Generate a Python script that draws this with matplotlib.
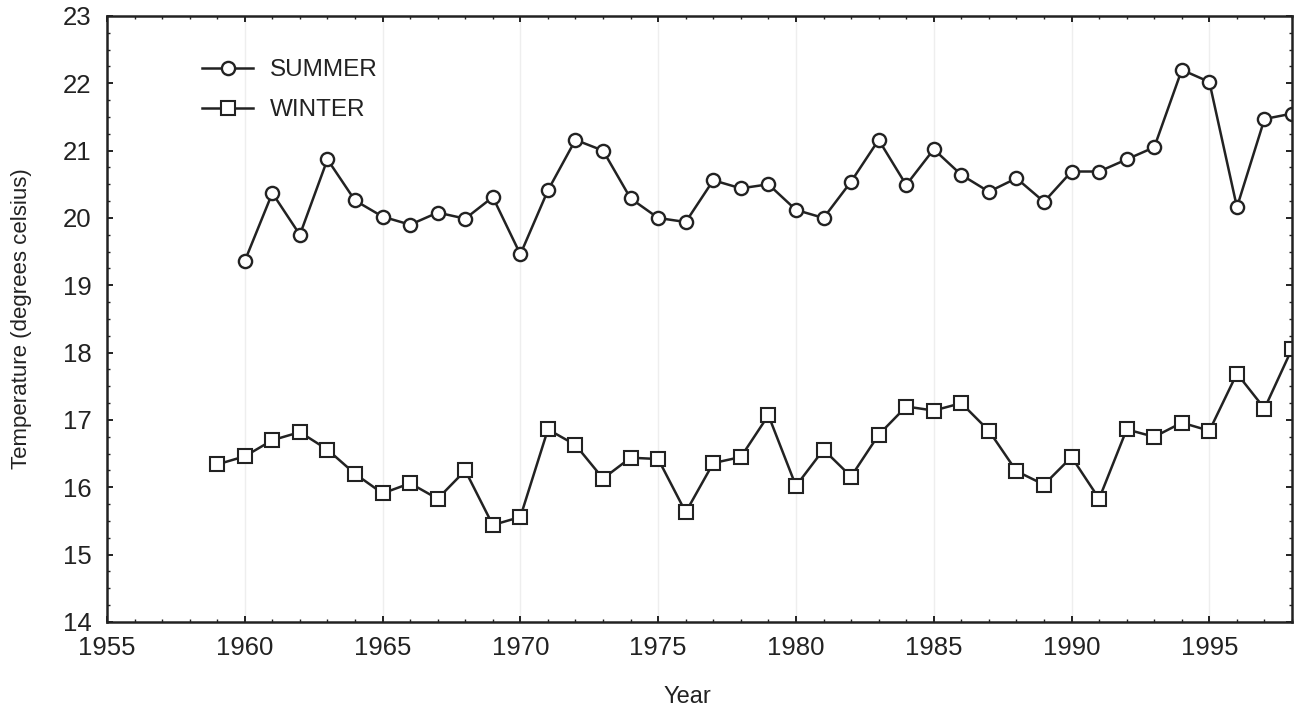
import matplotlib
matplotlib.use("Agg")
import matplotlib.pyplot as plt
from matplotlib.ticker import MultipleLocator

years_summer = list(range(1960, 1999))
summer = [19.36, 20.37, 19.75, 20.87, 20.26, 20.02, 19.90, 20.08, 19.99, 20.31,
          19.46, 20.41, 21.16, 21.00, 20.29, 20.00, 19.94, 20.56, 20.44, 20.50,
          20.12, 20.00, 20.54, 21.16, 20.49, 21.02, 20.64, 20.39, 20.59, 20.24,
          20.69, 20.69, 20.87, 21.05, 22.20, 22.02, 20.16, 21.47, 21.55]

years_winter = list(range(1959, 1999))
winter = [16.34, 16.46, 16.70, 16.82, 16.56, 16.20, 15.91, 16.06, 15.83, 16.25,
          15.44, 15.56, 16.86, 16.63, 16.13, 16.44, 16.42, 15.63, 16.36, 16.45,
          17.07, 16.02, 16.56, 16.16, 16.78, 17.20, 17.14, 17.25, 16.84, 16.24,
          16.04, 16.45, 15.83, 16.86, 16.75, 16.96, 16.84, 17.69, 17.17, 18.06]

plt.rcParams["font.family"] = ["Liberation Sans", "DejaVu Sans"]
INK = "#222222"

fig = plt.figure(figsize=(13.14, 7.16), dpi=100)
ax = fig.add_axes([0.0814, 0.1313, 0.9019, 0.8464])

# faint scan lines at the 5-year marks
for x in range(1960, 1998, 5):
    ax.axvline(x, color="#eeeeee", linewidth=1.0, zorder=0)

ax.plot(years_summer, summer, color=INK, linewidth=1.8, marker="o", markersize=9.5,
        markerfacecolor="white", markeredgecolor=INK, markeredgewidth=1.7, label="SUMMER")
ax.plot(years_winter, winter, color=INK, linewidth=1.8, marker="s", markersize=9.5,
        markerfacecolor="white", markeredgecolor=INK, markeredgewidth=1.5, label="WINTER")

ax.set_xlim(1955, 1998)
ax.set_ylim(14, 23)
ax.xaxis.set_major_locator(MultipleLocator(5))
ax.xaxis.set_minor_locator(MultipleLocator(1))
ax.yaxis.set_major_locator(MultipleLocator(1))
ax.yaxis.set_minor_locator(MultipleLocator(0.25))
ax.tick_params(which="both", direction="in", top=True, right=True, color=INK)
ax.tick_params(which="major", length=4, width=1.4)
ax.tick_params(which="minor", length=2.5, width=1.0)
ax.tick_params(axis="x", which="major", labelsize=18.5, pad=10, labelcolor=INK)
ax.tick_params(axis="y", which="major", labelsize=18.5, pad=11, labelcolor=INK)
for s in ax.spines.values():
    s.set_linewidth(1.8)
    s.set_color(INK)

ax.set_xlabel("Year", fontsize=17, color=INK)
ax.xaxis.set_label_coords(0.49, -0.105)
ax.set_ylabel("Temperature (degrees celsius)", fontsize=16, color=INK)
ax.yaxis.set_label_coords(-0.063, 0.5)

leg = ax.legend(loc="upper left", bbox_to_anchor=(0.062, 0.965), frameon=False,
                fontsize=17.5, handlelength=2.1, handletextpad=0.7, labelspacing=0.75)
for t in leg.get_texts():
    t.set_color(INK)

fig.savefig("out.png", dpi=100)
